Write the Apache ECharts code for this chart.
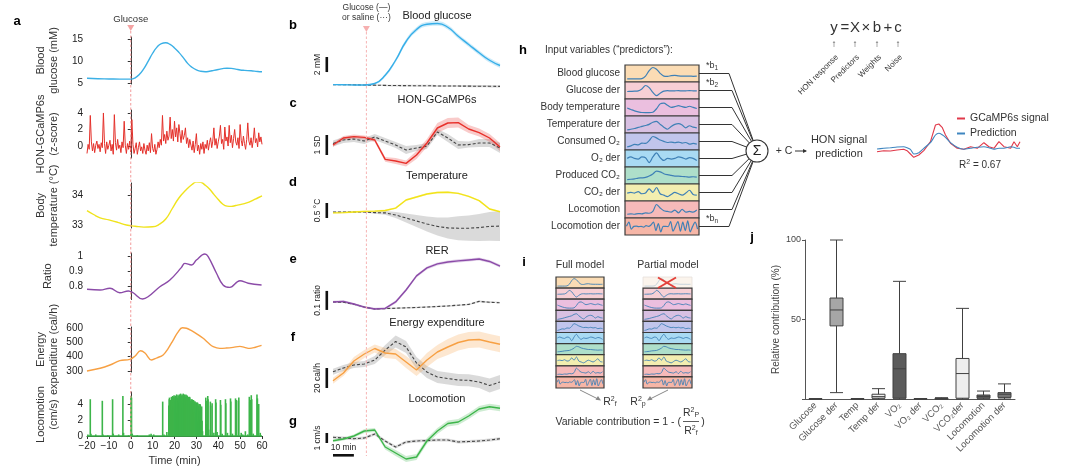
<!DOCTYPE html>
<html><head><meta charset="utf-8">
<script src="https://cdn.jsdelivr.net/npm/echarts@6/dist/echarts.min.js"></script>
<style>html,body{margin:0;padding:0;background:#fff}#c{width:1076px;height:472px}</style>
</head><body><div id="c"></div>
<script>
// ================= DATA =================
// ---- Panel a (time in min, -20..60) ----
const aGlucose = [[-20,6.1],[-15,6.0],[-10,5.95],[-5,5.9],[0,5.9],[2,6.2],[4,7.0],[6,8.3],[8,10],[10,11.8],[12,13.2],[14,14.0],[16,14.2],[18,13.8],[20,13],[22,12],[24,10.8],[26,9.5],[28,8.6],[30,8.0],[32,7.7],[34,7.6],[36,7.7],[38,7.9],[40,8.1],[42,8.3],[44,8.4],[46,8.35],[48,8.2],[50,8.0],[52,7.9],[55,7.8],[58,7.65],[60,7.6]];
const aHonStart = -20, aHonStep = 0.5;
const aHon = [-0.9,0.2,-0.4,3.7,0.5,-0.6,0.3,-0.8,0.1,0.6,-0.3,
 0.2,-0.7,0.4,-0.2,4.0,0.3,-0.9,0.5,-0.4,0.1,
 0.7,-0.6,0.2,-1.0,3.8,0.4,-0.5,0.8,-0.3,0.1,
 -0.8,0.5,-0.2,3.0,0.1,-0.9,0.3,-0.4,0.6,-0.7,
 3.2,0.2,-0.9,-0.3,0.4,-1.0,-0.2,0.5,-0.6,-0.1,
 -0.9,0.3,-0.5,-1.0,0.1,-0.6,0.4,-0.8,1.5,-0.3,
 -0.7,0.2,-1.0,-0.4,0.5,-0.2,0.8,0.1,3.7,0.6,
 1.4,0.3,1.8,0.7,1.2,3.5,0.9,2.0,0.6,3.0,
 1.1,2.2,0.5,2.6,1.5,0.4,1.9,0.8,1.3,2.2,
 0.3,1.0,-0.2,0.8,0.1,-0.5,0.6,-0.8,0.2,1.5,
 -0.6,0.1,-1.0,0.3,-0.4,0.5,-0.9,0.2,-0.3,0.7,
 -0.5,0.4,1.0,-0.2,0.6,2.2,0.1,0.9,-0.3,0.5,
 1.2,2.5,0.3,0.8,-0.4,2.3,0.6,1.1,0.0,2.5,
 0.4,1.3,-0.2,0.9,2.0,0.5,0.1,1.0,-0.3,2.6,
 0.7,0.0,1.2,0.3,-0.4,0.8,2.8,0.6,0.1,1.0,
 -0.2,0.7,2.2,0.4,0.9,-0.1,1.6,0.5,1.1,0.2];
const aTemp = [[-20,33.48],[-17,33.35],[-14,33.24],[-10,33.17],[-6,33.09],[-2,33.0],[2,32.96],[6,32.93],[10,32.94],[13,33.02],[16,33.2],[19,33.55],[22,33.9],[25,34.15],[28,34.35],[30,34.43],[32,34.42],[34,34.33],[36,34.2],[38,34.02],[40,33.85],[42,33.7],[44,33.63],[46,33.62],[48,33.65],[50,33.68],[53,33.74],[56,33.83],[58,33.9],[60,33.97]];
const aRatio = [[-20,0.778],[-14,0.773],[-9.5,0.785],[-5,0.755],[-1.1,0.767],[1.1,0.755],[5.4,0.713],[7.9,0.728],[13.3,0.795],[17.9,0.84],[23.2,0.924],[24.7,0.951],[27.8,0.94],[30,0.973],[33.9,1.013],[35.4,0.996],[39.2,0.885],[42.2,0.807],[45.3,0.791],[49.9,0.835],[53.7,0.818],[59.8,0.807]];
const aEnergy = [[-20,300],[-14,319],[-9.5,342],[-5,372],[-0.4,381],[2,405],[4.5,441],[6.5,425],[9.5,377],[12,392],[14.8,412],[17,455],[19.4,516],[21.5,570],[23.6,602],[25.5,598],[27.8,581],[30.5,556],[33.1,528],[35.5,495],[37.7,470],[40.7,458],[43.5,460],[46.8,465],[49.9,472],[52,465],[54.4,458],[57,466],[59.8,479]];
const aLoco = [[-19.6,0.2],[-18.5,4.6],[-18.2,0.3],[-16,0.2],[-13,4.4],[-12.7,0.2],[-10.5,0.1],[-8.3,4.6],[-8.0,0.3],[-5.5,0.2],[-3.6,5.0],[-3.3,0.4],[-1,0.1],[0.1,5.0],[0.35,4.8],[0.7,0.3],[3,0.1],[8.5,0.2],[9.3,0.3],[10.5,0.2],[14.6,4.3],[15.2,0.2],[16.5,0.5],
 [17.4,3.8],[17.6,4.6],[17.7,4.8],[17.85,3.9],[18.0,2.5],[18.15,4.1],[18.3,4.5],[18.45,3.0],[18.6,4.9],[18.75,4.4],[18.9,3.2],[19.05,4.7],[19.2,5.0],[19.35,3.7],[19.5,4.2],[19.65,4.9],[19.8,5.1],[19.95,4.4],[20.1,3.6],[20.25,4.8],[20.4,5.0],[20.55,3.3],[20.7,4.4],[20.85,5.1],[21.0,5.2],[21.15,4.0],[21.3,2.9],[21.45,4.8],[21.6,5.1],[21.75,4.3],[21.9,4.6],[22.05,5.0],[22.2,5.2],[22.35,4.2],[22.5,3.9],[22.65,5.1],[22.8,5.3],[22.95,3.6],[23.1,4.7],[23.25,5.0],[23.4,5.2],[23.55,4.5],[23.7,3.4],[23.85,5.1],[24.0,5.3],[24.15,4.1],[24.3,4.8],[24.45,5.2],[24.6,5.1],[24.75,3.9],[24.9,2.7],[25.05,4.9],[25.2,5.2],[25.35,4.0],[25.5,4.5],[25.65,5.1],[25.8,5.0],[25.95,3.2],[26.1,3.8],[26.25,4.7],[26.4,4.9],[26.55,3.5],[26.7,4.3],[26.85,4.9],[27.0,4.8],[27.15,3.9],[27.3,2.6],[27.45,4.4],[27.6,4.6],[27.75,3.2],[27.9,4.1],[28.05,4.6],[28.2,4.5],[28.35,2.8],[28.5,3.3],[28.65,4.5],[28.8,4.4],[28.95,3.1],[29.1,4.0],[29.25,4.3],[29.4,4.3],[29.55,2.9],[29.7,2.4],[29.85,4.1],[30.0,4.2],[30.15,3.3],[30.3,3.6],[30.45,4.2],[30.6,4.1],[30.75,2.2],[30.9,1.8],[31.05,3.8],[31.2,4.0],[31.35,2.6],[31.5,3.2],[31.65,4.0],[31.8,3.9],[31.95,2.1],[32.1,1.2],[32.25,3.6],[32.4,3.7],[32.6,1.9],[32.8,0.6],
 [34.3,4.8],[34.45,4.4],[34.6,1.5],[35.2,5.0],[35.35,4.6],[35.6,0.8],[36.4,4.3],[36.55,3.8],[37.2,4.1],[38.0,0.4],[38.8,4.6],[38.95,4.2],[39.5,0.5],[41.0,4.5],[41.15,3.9],[41.8,0.3],[43.3,4.6],[43.45,4.1],[44.2,0.4],[45.6,4.7],[45.75,4.3],[46.5,0.3],[47.9,4.7],[48.1,4.2],[48.3,4.5],[49.2,4.4],[49.4,4.8],[50.5,0.4],[51.2,0.2],[52.4,0.6],[53.5,0.2],[54.2,4.9],[54.4,4.3],[54.6,4.5],[55.1,5.1],[55.3,4.6],[56,0.3],[57.7,5.2],[57.9,4.7],[58.5,4.0],[59.2,0.4]];

// ---- Panels b-g (5-min bins, change from baseline) ----
const tBins = [-16,-11,-6,-1,4,9,14,19,24,29,34,39,44,49,54,59,64];
const bGlucose    = [0.05,0.03,0.01,0,0.2,1.3,3.3,5.8,7.4,8.1,8.2,7.7,6.5,5.4,4.3,3.3,2.6];
const bGlucoseSem = [0.05,0.05,0.05,0.05,0.1,0.2,0.25,0.3,0.3,0.3,0.3,0.3,0.3,0.3,0.3,0.3,0.3];
const bSaline     = [0.05,0.05,0.03,0.0,-0.02,-0.05,-0.07,-0.08,-0.1,-0.1,-0.12,-0.13,-0.14,-0.15,-0.16,-0.17,-0.18];
const bSalineSem  = [0.05,0.05,0.05,0.05,0.08,0.1,0.12,0.12,0.12,0.13,0.13,0.14,0.14,0.15,0.15,0.15,0.15];
const cHon        = [0,0.35,0.42,0.38,0.25,-0.72,-0.8,-0.92,-0.5,0.1,0.85,1.1,1.12,0.8,0.62,0.35,-0.1];
const cHonSem     = [0.1,0.1,0.1,0.1,0.1,0.12,0.15,0.15,0.2,0.2,0.25,0.25,0.25,0.2,0.2,0.2,0.2];
const cSaline     = [0.08,0.25,0.3,0.2,0.4,0.2,0,-0.25,-0.15,-0.05,0.65,0.35,0,0.02,0.1,0.1,-0.15];
const cSalineSem  = [0.15,0.15,0.15,0.15,0.15,0.15,0.15,0.2,0.15,0.15,0.15,0.2,0.2,0.15,0.2,0.2,0.25];
const dTemp       = [-0.03,-0.02,0,0.02,0.03,0.05,0.13,0.4,0.5,0.6,0.65,0.66,0.62,0.52,0.38,0.1,0.01];
const dTempSem    = [0.03,0.03,0.03,0.03,0.03,0.03,0.03,0.03,0.03,0.03,0.03,0.03,0.03,0.03,0.03,0.03,0.03];
const dSaline     = [0,0,0,0,-0.02,-0.03,-0.1,-0.2,-0.3,-0.4,-0.48,-0.53,-0.54,-0.54,-0.52,-0.48,-0.47];
const dSalineSem  = [0.02,0.02,0.02,0.02,0.04,0.06,0.1,0.15,0.2,0.25,0.3,0.35,0.4,0.42,0.45,0.48,0.5];
const eRer        = [0.037,0.04,0.026,0.01,0,0.003,0.037,0.1,0.174,0.216,0.237,0.247,0.253,0.258,0.263,0.25,0.226];
const eRerSem     = [0.006,0.006,0.006,0.006,0.006,0.006,0.008,0.008,0.008,0.008,0.008,0.008,0.008,0.008,0.008,0.008,0.008];
const eSaline     = [0.037,0.035,0.025,0.01,0,0.002,0.004,0.006,0.008,0.01,0.013,0.016,0.02,0.024,0.04,0.035,0.033];
const eSalineSem  = [0.004,0.004,0.004,0.004,0.004,0.004,0.004,0.004,0.004,0.004,0.004,0.004,0.004,0.004,0.005,0.005,0.005];
const fEnergy     = [-10.7,-3,9,16,21.5,17,16,8,0,10,18,23,27.5,30,30.5,28,25.7];
const fEnergySem  = [3,3,4,4,4,5,5,6,6,7,7,8,8,8,8,8,8];
const fSaline     = [-1.7,2,5,6,10,20,28.5,23,7,-2,-7,-8.5,-10,-10.3,-12,-15.5,-12];
const fSalineSem  = [3,3,3,3,4,5,6,6,6,6,6,6,6,6,6,7,7];
const gLoco       = [-0.07,0.1,0.4,0.9,1.0,-0.7,-1.3,-1.9,-1.7,-0.1,0.9,1.65,1.8,2.4,3.1,3.33,3.17];
const gLocoSem    = [0.15,0.15,0.15,0.2,0.2,0.25,0.3,0.3,0.3,0.3,0.3,0.3,0.3,0.3,0.3,0.3,0.3];
const gSaline     = [0.27,0.2,0.13,0.2,0.6,-0.1,-0.7,-0.2,-0.1,-0.05,0,0,-0.2,-0.15,-0.1,0,0.13];
const gSalineSem  = [0.15,0.15,0.15,0.15,0.15,0.15,0.15,0.15,0.15,0.15,0.15,0.15,0.15,0.15,0.15,0.15,0.15];

// ---- Panel h / i predictor traces (normalised 0..1) ----
const predictorLabels = ['Blood glucose','Glucose der','Body temperature','Temperature der','Consumed O\u2082','O\u2082 der','Produced CO\u2082','CO\u2082 der','Locomotion','Locomotion der'];
const trGlucose    = [0.1,0.1,0.1,0.1,0.12,0.3,0.7,0.92,0.8,0.5,0.3,0.28,0.34,0.36,0.32,0.3,0.3,0.3,0.29,0.3];
const trGlucoseDer = [0.42,0.43,0.44,0.46,0.6,0.85,0.7,0.35,0.12,0.3,0.45,0.48,0.46,0.47,0.48,0.46,0.47,0.48,0.47,0.46];
const trTemp       = [0.45,0.35,0.25,0.18,0.13,0.12,0.12,0.15,0.4,0.75,0.8,0.65,0.5,0.55,0.62,0.55,0.5,0.58,0.5,0.42];
const trTempDer    = [0.1,0.15,0.2,0.28,0.35,0.42,0.5,0.65,0.72,0.5,0.3,0.15,0.35,0.5,0.55,0.45,0.25,0.4,0.3,0.25];
const trO2         = [0.1,0.18,0.28,0.25,0.38,0.35,0.55,0.85,0.75,0.6,0.5,0.42,0.45,0.4,0.45,0.38,0.42,0.3,0.35,0.3];
const trO2Der      = [0.5,0.6,0.5,0.45,0.6,0.55,0.2,0.6,0.9,0.55,0.35,0.5,0.45,0.5,0.6,0.55,0.45,0.55,0.5,0.35];
const trCO2        = [0.2,0.22,0.25,0.3,0.32,0.35,0.45,0.6,0.8,0.75,0.62,0.55,0.5,0.45,0.45,0.42,0.4,0.38,0.4,0.38];
const trCO2Der     = [0.45,0.5,0.45,0.55,0.4,0.45,0.75,0.5,0.85,0.4,0.3,0.2,0.35,0.5,0.4,0.3,0.45,0.65,0.35,0.3];
const trLoco       = [0.15,0.18,0.15,0.2,0.18,0.25,0.22,0.35,0.85,0.6,0.4,0.35,0.3,0.45,0.25,0.5,0.3,0.35,0.3,0.45];
const trLocoDer    = [0.5,0.8,0.3,0.5,0.52,0.48,0.5,0.45,0.55,0.5,0.6,0.8,0.2,0.7,0.1,0.5,0.5,0.48,0.85,0.15,0.5,0.85,0.15,0.8,0.2,0.9,0.1,0.5,0.8,0.3];

// ---- HON signal vs prediction (px-scaled signal units) ----
const predSamples = [20,40,60,80,100,110,120,130,145,160,180,195,205,215,225,240,260,280,300,320,340,355,370,385,400,420,430,440,448];
const predSignal  = [-1.7,-0.7,-1,0,0.7,-0.7,-4,-7.3,-5,-0.7,8.3,25,26,22.7,15,6.7,1.7,0.7,3.3,1.7,7.3,3.3,1.7,8.3,3.3,1.7,8.3,3.3,8.3];
const predModel   = [1,1.7,2.3,3,3.3,2.3,0.7,-4,-2.7,1.7,7.3,15,16.7,15.3,12.7,7.3,2.7,0.7,1.7,2.7,3.3,2.3,0.7,1.7,1.7,3.3,2.7,1.7,1.7];

// ---- Panel j ----
const jCategories = ['Glucose','Glucose der','Temp','Temp der','VO\u2082','VO\u2082 der','VCO\u2082','VCO\u2082der','Locomotion','Locomotion der'];
const jBoxes = [[0,0,0,0.2,0.3],[4,46,56,63.5,100],[0,0,0,0.2,0.3],[0,0.5,1.5,3,6.5],[0,0.5,19,28.5,74],[0,0,0,0.2,0.3],[0,0,0.2,0.5,0.8],[0,0.5,16,25.5,57],[0,0.5,1.5,2.5,5],[0,1,3,4,9.5]];

// ================= STYLE =================
const FONT = "'Liberation Sans', Arial, 'DejaVu Sans', sans-serif";
const rowColors = ['#fbdcb4','#f7cfd5','#ebbfdf','#d8c0e2','#c1c5ec','#a9daf3','#aedfca','#f3eeb0','#f6baba','#f6b6a7'];
const jFill = ['#888','#a6a6a6','#888','#f2f2f2','#5b5b5b','#777','#777','#eeeeee','#666','#777'];
const traceColor = '#3f80b6';

// ================= BUILD =================
const grids=[], xAxes=[], yAxes=[], series=[];
function addGrid(rect, xa, ya){
  grids.push(Object.assign({containLabel:false, show:false}, rect));
  const i = grids.length-1;
  xAxes.push(Object.assign({gridIndex:i}, xa));
  yAxes.push(Object.assign({gridIndex:i}, ya));
  return i;
}
const hid = (min,max)=>({type:'value', min, max, show:false});
function aY(min,max,ticks,name,gap){
  return {type:'value', min, max,
    axisLine:{show:true, lineStyle:{color:'#333', width:1}},
    axisTick:{show:true, length:3, customValues:ticks, lineStyle:{color:'#333'}},
    axisLabel:{customValues:ticks, fontSize:10, color:'#222', margin:4, fontFamily:FONT},
    splitLine:{show:false},
    name, nameLocation:'middle', nameGap:gap, nameRotate:90,
    nameTextStyle:{fontSize:11, color:'#333', fontFamily:FONT, lineHeight:13}};
}
const A = {left:87, width:175};
const gA = [];
gA.push(addGrid(Object.assign({top:37,height:47},A), hid(-20,60), aY(4.8,15.5,[5,10,15],'Blood\nglucose (mM)',27)));
series.push({type:'line', xAxisIndex:gA[0], yAxisIndex:gA[0], data:aGlucose, smooth:true, symbol:'none', lineStyle:{color:'#3bb0e6', width:1.4}});
gA.push(addGrid(Object.assign({top:110,height:48},A), hid(-20,60), aY(-1.45,4.36,[0,2,4],'HON-GCaMP6s\n(z-score)',27)));
series.push({type:'line', xAxisIndex:gA[1], yAxisIndex:gA[1], data:aHon.map((v,i)=>[aHonStart+i*aHonStep, v]), symbol:'none', lineStyle:{color:'#e5302a', width:1}});
gA.push(addGrid(Object.assign({top:183,height:45},A), hid(-20,60), aY(32.9,34.4,[33,34],'Body\ntemperature (\u00b0C)',27)));
series.push({type:'line', xAxisIndex:gA[2], yAxisIndex:gA[2], data:aTemp, smooth:true, symbol:'none', lineStyle:{color:'#f0e31c', width:1.4}});
gA.push(addGrid(Object.assign({top:253,height:46.5},A), hid(-20,60), aY(0.71,1.02,[0.8,0.9,1],'Ratio',33)));
series.push({type:'line', xAxisIndex:gA[3], yAxisIndex:gA[3], data:aRatio, smooth:0.4, symbol:'none', lineStyle:{color:'#8b4ba8', width:1.4}});
gA.push(addGrid(Object.assign({top:327,height:45},A), hid(-20,60), aY(293,607,[300,400,500,600],'Energy\nexpenditure (cal/h)',27)));
series.push({type:'line', xAxisIndex:gA[4], yAxisIndex:gA[4], data:aEnergy, smooth:0.4, symbol:'none', lineStyle:{color:'#f7a043', width:1.4}});
gA.push(addGrid(Object.assign({top:392,height:45},A),
  {type:'value', min:-20, max:60, interval:10,
   axisLine:{show:true, lineStyle:{color:'#333'}}, axisTick:{show:true, length:3, lineStyle:{color:'#333'}},
   axisLabel:{fontSize:10, color:'#222', margin:4, fontFamily:FONT, formatter:v=> v<0 ? '\u2212'+(-v) : String(v)},
   splitLine:{show:false}, name:'Time (min)', nameLocation:'middle', nameGap:18,
   nameTextStyle:{fontSize:11, color:'#333', fontFamily:FONT}},
  aY(-0.12,5.5,[0,2,4],'Locomotion\n(cm/s)',27)));
series.push({type:'bar', xAxisIndex:gA[5], yAxisIndex:gA[5], data:aLoco, barWidth:1.6, itemStyle:{color:'#3db54a'},
  markLine:{symbol:'none', silent:true, label:{show:false}, lineStyle:{color:'#3db54a', width:1.5, type:'solid'}, data:[{yAxis:0}]}});

// Panels b-g (binned, category time axis)
const BG = {left:333, width:167};
const panelsBG = [
  {top:15, height:80, min:-1.33, max:9.33, m:bGlucose, s:bGlucoseSem, c:bSaline, cs:bSalineSem, color:'#36aee8', smooth:true},
  {top:110, height:65, min:-1.5, max:1.75, m:cHon, s:cHonSem, c:cSaline, cs:cSalineSem, color:'#e8302a', smooth:false},
  {top:185, height:60, min:-1.1, max:0.9, m:dTemp, s:dTempSem, c:dSaline, cs:dSalineSem, color:'#f2e31a', smooth:false},
  {top:255, height:65, min:-0.058, max:0.284, m:eRer, s:eRerSem, c:eSaline, cs:eSalineSem, color:'#8b4ba8', smooth:false},
  {top:325, height:70, min:-25, max:45, m:fEnergy, s:fEnergySem, c:fSaline, cs:fSalineSem, color:'#f7a043', smooth:false},
  {top:400, height:65, min:-2.5, max:4, m:gLoco, s:gLocoSem, c:gSaline, cs:gSalineSem, color:'#3db54a', smooth:false}
];
function band(gi, mean, sem, color, opacity, smooth, key){
  return [
    {type:'line', xAxisIndex:gi, yAxisIndex:gi, stack:key, stackStrategy:'all', symbol:'none', smooth, silent:true, z:1,
     lineStyle:{opacity:0}, data:mean.map((v,i)=>v-sem[i])},
    {type:'line', xAxisIndex:gi, yAxisIndex:gi, stack:key, stackStrategy:'all', symbol:'none', smooth, silent:true, z:1,
     lineStyle:{opacity:0}, areaStyle:{color, opacity}, data:sem.map(s=>2*s)}
  ];
}
const gBG = [];
panelsBG.forEach((p,k)=>{
  const gi = addGrid(Object.assign({top:p.top, height:p.height}, BG),
    {type:'category', data:tBins, boundaryGap:false, show:false}, hid(p.min,p.max));
  gBG.push(gi);
  series.push(...band(gi, p.c, p.cs, '#b5b5b5', 0.5, p.smooth, 'ctl'+k));
  series.push(...band(gi, p.m, p.s, p.color, 0.25, p.smooth, 'trt'+k));
  series.push({type:'line', xAxisIndex:gi, yAxisIndex:gi, data:p.c, smooth:p.smooth, symbol:'none', z:3,
    lineStyle:{color:'#444', width:1.1, type:[3,2]}});
  series.push({type:'line', xAxisIndex:gi, yAxisIndex:gi, data:p.m, smooth:p.smooth, symbol:'none', z:4,
    lineStyle:{color:p.color, width:1.4}});
});

// Panel h boxes
const traces = [trGlucose,trGlucoseDer,trTemp,trTempDer,trO2,trO2Der,trCO2,trCO2Der,trLoco,trLocoDer];
function traceBox(rect, tr, bg, faded, lw){
  const gi = addGrid(Object.assign({show:true, backgroundColor:bg, borderColor: faded?'#e6e0dc':'#3a3a3a', borderWidth:faded?0.8:1.2}, rect),
    hid(-0.6, tr.length-0.4), hid(-0.12,1.1));
  series.push({type:'line', xAxisIndex:gi, yAxisIndex:gi, data:tr.map((v,i)=>[i,v]), symbol:'none', smooth:0.3,
    lineStyle:{color:traceColor, width:lw, opacity: faded?0.3:1}});
  return gi;
}
const H = {left:625, width:74, top:65, row:17};
traces.forEach((tr,r)=> traceBox({left:H.left, width:H.width, top:H.top+H.row*r, height:H.row}, tr, rowColors[r], false, 1.2));
// Panel i full / partial
const IF = {left:556, width:48, top:277, row:11.1};
const IP = {left:643, width:49, top:277, row:11.1};
traces.forEach((tr,r)=> traceBox({left:IF.left, width:IF.width, top:IF.top+IF.row*r, height:IF.row}, tr, rowColors[r], false, 0.9));
traces.forEach((tr,r)=> traceBox({left:IP.left, width:IP.width, top:IP.top+IP.row*r, height:IP.row}, tr, r===0?'#fbf4ec':rowColors[r], r===0, 0.9));

// prediction mini plot
const gP = addGrid({left:877, width:143, top:115, height:50}, hid(20,448), hid(-15,35));
series.push({type:'line', name:'GCaMP6s signal', xAxisIndex:gP, yAxisIndex:gP, data:predSamples.map((t,i)=>[t,predSignal[i]]), symbol:'none', lineStyle:{color:'#e0394a', width:1.1}, itemStyle:{color:'#e0394a'}});
series.push({type:'line', name:'Prediction', xAxisIndex:gP, yAxisIndex:gP, data:predSamples.map((t,i)=>[t,predModel[i]]), symbol:'none', smooth:0.2, lineStyle:{color:'#3f86c0', width:1.1}, itemStyle:{color:'#3f86c0'}});

// panel j
const gJ = addGrid({left:805, width:210, top:240, height:159},
  {type:'category', data:jCategories, axisLine:{show:true, lineStyle:{color:'#555', width:1}}, axisTick:{show:false},
   axisLabel:{rotate:45, interval:0, fontSize:9.5, color:'#555', margin:5, fontFamily:FONT}},
  {type:'value', min:0, max:100, interval:50, axisLine:{show:true, lineStyle:{color:'#555'}}, axisTick:{show:true, length:3, lineStyle:{color:'#555'}},
   axisLabel:{fontSize:9, color:'#444', margin:4, fontFamily:FONT, formatter:v=> v===0?'':String(v)}, splitLine:{show:false},
   name:'Relative contribution (%)', nameLocation:'middle', nameGap:24, nameTextStyle:{fontSize:10, color:'#444', fontFamily:FONT}});
series.push({type:'boxplot', xAxisIndex:gJ, yAxisIndex:gJ, boxWidth:[13,13],
  data:jBoxes.map((b,i)=>({value:b, itemStyle:{color:jFill[i], borderColor:'#404040', borderWidth:1}}))});

const chart = echarts.init(document.getElementById('c'), null, {width:1076, height:472});
chart.setOption({
  animation:false, backgroundColor:'#fff', textStyle:{fontFamily:FONT},
  grid:grids, xAxis:xAxes, yAxis:yAxes, series,
  legend:{data:['GCaMP6s signal','Prediction'], orient:'vertical', left:952, top:108, itemWidth:8, itemHeight:2, itemGap:4, icon:'rect',
    textStyle:{fontSize:10.5, color:'#333', fontFamily:FONT}, selectedMode:false}
});

// ================= ANNOTATIONS =================
const px = (gi, pt) => chart.convertToPixel({gridIndex:gi}, pt);
const G = [];
function T(x,y,text,o){ G.push({type:'text', x, y, silent:true, z:20, rotation:(o&&o.rot)||0,
  style:Object.assign({text, fill:'#222', fontSize:10.5, fontFamily:FONT, align:'center', verticalAlign:'middle'}, o&&o.s)}); }
function L(x1,y1,x2,y2,stroke,w,dash){ G.push({type:'line', silent:true, z:19, shape:{x1,y1,x2,y2}, style:{stroke, lineWidth:w||1, lineDash:dash||null}}); }
function PL(points,stroke,w){ G.push({type:'polyline', silent:true, z:19, shape:{points}, style:{stroke, lineWidth:w||1, fill:null}}); }
function TRI(x,y,c){ G.push({type:'polygon', silent:true, z:19, shape:{points:[[x-3.5,y-3],[x+3.5,y-3],[x,y+3]]}, style:{fill:c}}); }

// panel letters
[['a',17,21],['b',293,25],['c',293,103],['d',293,182],['e',293,259],['f',293,337],['g',293,421],['h',523,50],['i',524,262],['j',752,237]]
  .forEach(([t,x,y])=>T(x,y,t,{s:{fontSize:13, fontWeight:'bold', fill:'#000'}}));

// injection markers
const xa0 = px(gA[0],[0,5])[0];
L(xa0,31,xa0,440,'#f29a9a',1,[2.5,2]); TRI(xa0,28,'#f4a3a3');
T(xa0,19,'Glucose',{s:{fontSize:9.5, fill:'#333'}});
const binX = i => px(gBG[0],[i,0])[0];
const injIdx = tBins.findIndex(t=>t>0);
const xb0 = binX(injIdx-1) + (binX(injIdx)-binX(injIdx-1)) * (0 - tBins[injIdx-1])/(tBins[injIdx]-tBins[injIdx-1]);
L(xb0,32,xb0,456,'#f6b3b3',1,[2.5,2]); TRI(xb0,29,'#f6b0b0');
T(xb0,8,'Glucose (\u2014)',{s:{fontSize:8.5, fill:'#333'}});
T(xb0,18,'or saline (\u00b7\u00b7\u00b7)',{s:{fontSize:8.5, fill:'#333'}});

// b-g titles
const bgTitles = ['Blood glucose','HON-GCaMP6s','Temperature','RER','Energy expenditure','Locomotion'];
const bgTitleY = [16,100,176,251,323,399];
bgTitles.forEach((t,k)=>T(437,bgTitleY[k],t,{s:{fontSize:11, fill:'#222'}}));

// scale bars (value-based)
const scaleBars = [[0,1.73,2,'2 mM'],[1,-0.5,1,'1 SD'],[2,-0.2,0.5,'0.5 \u00b0C'],[3,-0.005,0.1,'0.1 ratio'],[4,-18,20,'20 cal/h'],[5,-0.3,1,'1 cm/s']];
scaleBars.forEach(([k,from,size,label])=>{
  const y1 = px(gBG[k],[0,from])[1], y2 = px(gBG[k],[0,from+size])[1];
  G.push({type:'rect', silent:true, z:19, shape:{x:325.5, y:Math.min(y1,y2), width:2.6, height:Math.abs(y1-y2)}, style:{fill:'#111'}});
  T(318,(y1+y2)/2,label,{rot:Math.PI/2, s:{fontSize:8.5, fill:'#222'}});
});
const x10a = binX(0), x10b = binX(2);
G.push({type:'rect', silent:true, z:19, shape:{x:x10a, y:454, width:x10b-x10a, height:2.6}, style:{fill:'#111'}});
T((x10a+x10b)/2,448,'10 min',{s:{fontSize:8.5, fill:'#222'}});

// panel h texts
T(545,50,'Input variables (\u201cpredictors\u201d):',{s:{fontSize:10, align:'left', fill:'#333'}});
predictorLabels.forEach((t,r)=>T(620, H.top+H.row*(r+0.5), t, {s:{fontSize:10, align:'right', fill:'#333'}}));
const sig = {x:757, y:151, r:11};
predictorLabels.forEach((t,r)=>{
  const y = H.top+H.row*(r+0.5);
  const hx = 729 + (r===0||r===9?0:3);
  const dx = hx-sig.x, dy = y-sig.y, len = Math.hypot(dx,dy);
  PL([[H.left+H.width,y],[hx,y],[sig.x+dx/len*sig.r, sig.y+dy/len*sig.r]], '#333', 1);
});
G.push({type:'circle', silent:true, z:19, shape:{cx:sig.x, cy:sig.y, r:sig.r}, style:{fill:'#fff', stroke:'#333', lineWidth:1.1}});
T(sig.x, sig.y, '\u03a3', {s:{fontSize:14, fill:'#222'}});
const bRich = {rich:{a:{fontSize:9, fill:'#333'}, b:{fontSize:6.5, fill:'#333', padding:[5,0,0,0]}}};
[['1',0],['2',1],['n',9]].forEach(([s,r])=>T(712, H.top+H.row*r+1, '{a|*b}{b|'+s+'}', {s:Object.assign({fontSize:9}, bRich)}));
T(784,151,'+ C',{s:{fontSize:10.5, fill:'#333'}});
L(795,151,806,151,'#333',1); G.push({type:'polygon', silent:true, z:19, shape:{points:[[807,151],[803,149],[803,153]]}, style:{fill:'#333'}});
T(839,140,'HON signal',{s:{fontSize:11, fill:'#333'}});
T(839,154,'prediction',{s:{fontSize:11, fill:'#333'}});
T(980,165,'{a|R}{b|2}{a| = 0.67}',{s:{rich:{a:{fontSize:10, fill:'#333'}, b:{fontSize:7, fill:'#333', padding:[0,0,5,0]}}}});

// equation
const eqX = [834,845,855,866,877,888,898];
['y','=','X','\u00d7','b','+','c'].forEach((c,i)=>T(eqX[i],28,c,{s:{fontSize:15, fill:'#333'}}));
const eqLabels = ['HON response','Predictors','Weights','Noise'];
[834,855,877,898].forEach((x,i)=>{
  T(x,44,'\u2191',{s:{fontSize:10, fill:'#333'}});
  T(x+3,56,eqLabels[i],{rot:Math.PI/4, s:{fontSize:8, align:'right', fill:'#333'}});
});

// panel i texts
T(580,265,'Full model',{s:{fontSize:10.5, fill:'#333'}});
T(668,265,'Partial model',{s:{fontSize:10.5, fill:'#333'}});
L(658,277.5,676,288,'#e3403a',2); L(658,288,676,277.5,'#e3403a',2);
L(580,390,598,399,'#888',1); G.push({type:'polygon', silent:true, z:19, shape:{points:[[601,400.5],[595.5,399.8],[598,396]]}, style:{fill:'#888'}});
L(668,390,650,399,'#888',1); G.push({type:'polygon', silent:true, z:19, shape:{points:[[647,400.5],[652.5,399.8],[650,396]]}, style:{fill:'#888'}});
const rf = {rich:{a:{fontSize:10.5, fill:'#333'}, b:{fontSize:7, fill:'#333', padding:[0,0,6,0]}, c:{fontSize:7, fill:'#333', padding:[5,0,0,0]}}};
T(610,402,'{a|R}{b|2}{c|f}',{s:rf});
T(638,402,'{a|R}{b|2}{c|p}',{s:rf});
T(681,422,'Variable contribution = 1 - (',{s:{fontSize:10.5, align:'right', fill:'#333'}});
T(691,413,'{a|R}{b|2}{c|P}',{s:rf});
L(683,421.5,699,421.5,'#333',0.8);
T(691,431,'{a|R}{b|2}{c|f}',{s:rf});
T(703,422,')',{s:{fontSize:10.5, fill:'#333'}});

chart.setOption({graphic:{elements:G}});
</script>
</body></html>
